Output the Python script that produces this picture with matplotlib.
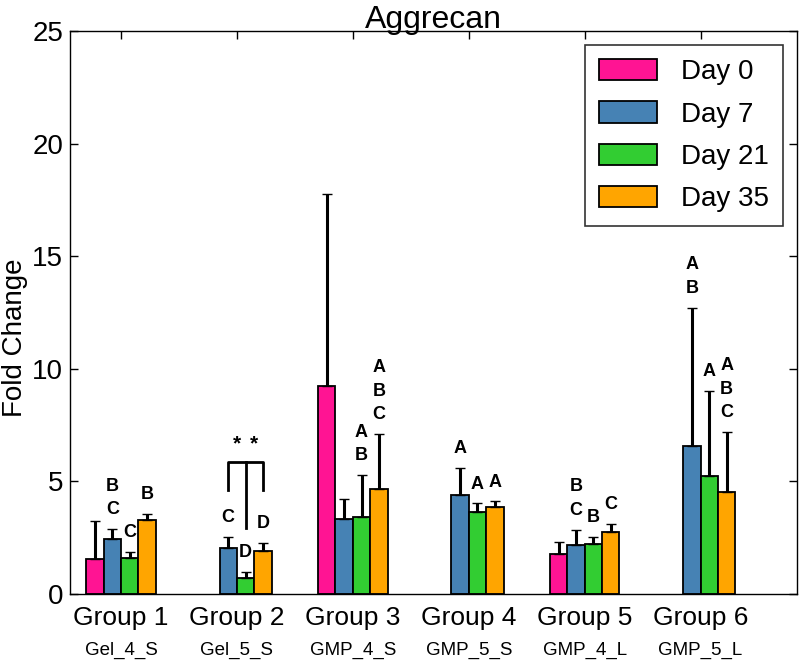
import numpy as np
import matplotlib
matplotlib.use("Agg")
import matplotlib.pyplot as plt

plt.rcParams['font.family'] = ['Liberation Sans', 'DejaVu Sans']

groups = ["Group 1", "Group 2", "Group 3", "Group 4", "Group 5", "Group 6"]
subgroups = ["Gel_4_S", "Gel_5_S", "GMP_4_S", "GMP_5_S", "GMP_4_L", "GMP_5_L"]
days = ["Day 0", "Day 7", "Day 21", "Day 35"]
nan = np.nan

# mean fold change per day, one entry per group
day0 = [1.54, nan, 9.22, nan, 1.79, nan]
day7 = [2.45, 2.06, 3.34, 4.40, 2.18, 6.55]
day21 = [1.60, 0.73, 3.41, 3.66, 2.24, 5.25]
day35 = [3.29, 1.93, 4.66, 3.87, 2.76, 4.52]

# upper error (SD)
day0_err = [1.72, nan, 8.53, nan, 0.54, nan]
day7_err = [0.43, 0.48, 0.87, 1.19, 0.68, 6.16]
day21_err = [0.28, 0.23, 1.87, 0.36, 0.30, 3.75]
day35_err = [0.27, 0.33, 2.44, 0.24, 0.34, 2.66]

# significance letters (group index, day index, letters top->bottom)
letters = [
    (0, 1, "BC"), (0, 2, "C"), (0, 3, "B"),
    (1, 1, "C"), (1, 2, "D"), (1, 3, "D"),
    (2, 2, "AB"), (2, 3, "ABC"),
    (3, 1, "A"), (3, 2, "A"), (3, 3, "A"),
    (4, 1, "BC"), (4, 2, "B"), (4, 3, "C"),
    (5, 1, "AB"), (5, 2, "A"), (5, 3, "ABC"),
]

# bracket over group 2 (y levels)
bracket_top = 5.86
bracket_leg = 4.6
bracket_mid = 2.94
star_y = 6.67

colors = ["#FF1493", "#4682B4", "#32CD32", "#FFA500"]
means = [day0, day7, day21, day35]
errs = [day0_err, day7_err, day21_err, day35_err]

fig = plt.figure(figsize=(8, 6.6), dpi=100)
ax = fig.add_axes([0.0875, 0.1, 0.9085, 0.853])

x = np.arange(1, 7)
w = 0.15
offsets = [-1.5 * w, -0.5 * w, 0.5 * w, 1.5 * w]

for i in range(4):
    m = np.array(means[i])
    e = np.array(errs[i])
    ax.bar(x + offsets[i], m, w, color=colors[i], edgecolor="black",
           linewidth=1.3, label=days[i], zorder=2)
    ax.errorbar(x + offsets[i], m, yerr=[np.zeros_like(e), e], fmt="none",
                ecolor="black", elinewidth=2.2, capsize=3.5, capthick=1,
                zorder=3)

for g, d, s in letters:
    top = means[d][g] + errs[d][g]
    n = len(s)
    for k, ch in enumerate(s):
        ax.annotate(ch, (x[g] + offsets[d], top), xytext=(0, 14 + (n - 1 - k) * 17),
                    textcoords="offset points", ha="center", va="center",
                    fontsize=13, fontweight="bold")

# bracket for group 2
bx = [x[1] + offsets[1], x[1] + offsets[2], x[1] + offsets[3]]
ax.plot([bx[0], bx[0], bx[2], bx[2]], [bracket_leg, bracket_top, bracket_top, bracket_leg],
        color="black", lw=2)
ax.plot([bx[1], bx[1]], [bracket_top, bracket_mid], color="black", lw=2)
for sx in [bx[1] - 0.075, bx[1] + 0.075]:
    ax.text(sx, star_y, "*", ha="center", va="center", fontsize=15, fontweight="bold")

ax.set_xlim(0.56, 6.83)
ax.set_ylim(0, 25)
ax.set_yticks([0, 5, 10, 15, 20, 25])
ax.set_xticks(x)
ax.set_xticklabels(groups, fontsize=19)
ax.tick_params(axis="both", direction="in", top=True, right=True, length=6, width=1)
ax.tick_params(axis="y", labelsize=20, pad=5)
ax.tick_params(axis="x", pad=9)
for s in ax.spines.values():
    s.set_linewidth(1)

for xi, lab in zip(x, subgroups):
    ax.text(xi, -0.085, lab, transform=ax.get_xaxis_transform(), ha="center",
            va="top", fontsize=13.5)

ax.set_ylabel("Fold Change", fontsize=20)
ax.yaxis.set_label_coords(-0.058, 0.455)
ax.set_title("Aggrecan", fontsize=23, pad=2)

leg = ax.legend(loc="upper right", fontsize=20, frameon=True, fancybox=False,
                edgecolor="black", handlelength=2.1, handleheight=0.8,
                borderpad=0.5, labelspacing=0.58, handletextpad=0.85,
                borderaxespad=0, bbox_to_anchor=(0.981, 0.975))
leg.get_frame().set_linewidth(1.2)

fig.savefig("out.png", dpi=100)
